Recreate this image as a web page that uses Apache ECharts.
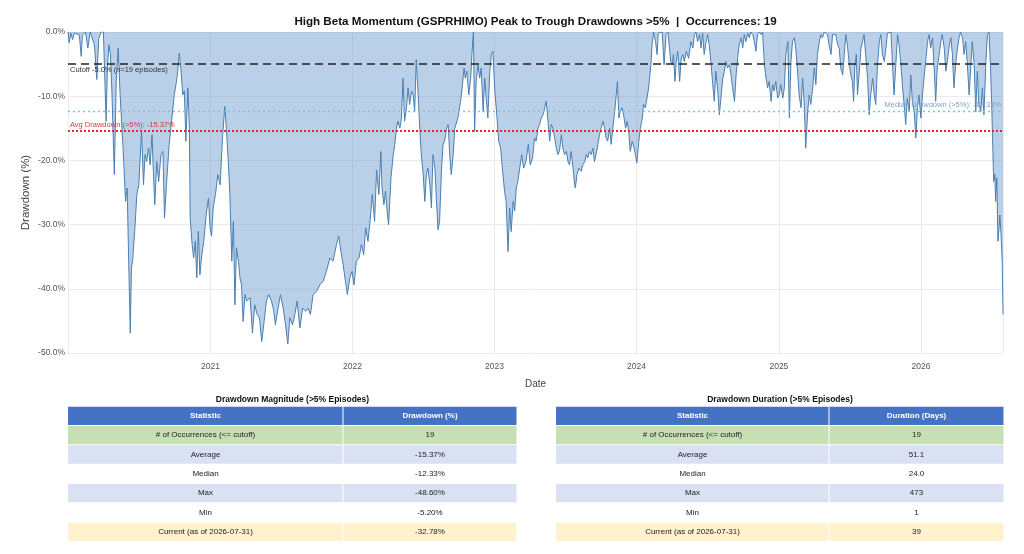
<!DOCTYPE html>
<html>
<head>
<meta charset="utf-8">
<script src="https://cdn.jsdelivr.net/npm/echarts@6/dist/echarts.min.js"></script>
<style>
  html, body { margin: 0; padding: 0; background: #fff; }
  #chart { width: 1024px; height: 554px; }
</style>
</head>
<body>
<div id="chart"></div>
<script>
// drawdown series (%, peak to trough)
var dates = [
  // 2020
  '2020-01-01','2020-01-04','2020-01-08','2020-01-13','2020-01-17','2020-01-21','2020-01-30','2020-02-04','2020-02-07','2020-02-15',
  '2020-02-21','2020-02-27','2020-03-09','2020-03-15','2020-03-20','2020-03-26','2020-04-01','2020-04-05','2020-04-08','2020-04-11',
  '2020-04-15','2020-04-19','2020-04-23','2020-04-29','2020-05-04','2020-05-09','2020-05-14','2020-05-21','2020-05-28','2020-06-01',
  '2020-06-05','2020-06-09','2020-06-12','2020-06-15','2020-06-21','2020-06-26','2020-07-01','2020-07-08','2020-07-13','2020-07-17',
  '2020-07-21','2020-07-26','2020-07-30','2020-08-04','2020-08-07','2020-08-11','2020-08-16','2020-08-21','2020-08-27','2020-09-01',
  '2020-09-05','2020-09-10','2020-09-17','2020-09-24','2020-09-30','2020-10-05','2020-10-09','2020-10-13','2020-10-17','2020-10-22',
  '2020-10-26','2020-10-30','2020-11-04','2020-11-08','2020-11-10','2020-11-15','2020-11-19','2020-11-23','2020-11-27','2020-12-01',
  '2020-12-05','2020-12-10','2020-12-15','2020-12-21','2020-12-27','2020-12-31',
  // 2021
  '2021-01-04','2021-01-08','2021-01-14','2021-01-20','2021-01-26','2021-02-01','2021-02-07','2021-02-11','2021-02-16','2021-02-20',
  '2021-02-25','2021-03-01','2021-03-05','2021-03-09','2021-03-14','2021-03-18','2021-03-22','2021-03-26','2021-03-31','2021-04-04',
  '2021-04-13','2021-04-19','2021-04-25','2021-05-01','2021-05-07','2021-05-13','2021-05-19','2021-05-25','2021-05-31','2021-06-07',
  '2021-06-13','2021-06-17','2021-06-24','2021-06-30','2021-07-07','2021-07-12','2021-07-19','2021-07-24','2021-07-31','2021-08-06',
  '2021-08-12','2021-08-19','2021-08-26','2021-09-03','2021-09-09','2021-09-15','2021-09-22','2021-10-01','2021-10-09','2021-10-18',
  '2021-10-26','2021-11-04','2021-11-12','2021-11-21','2021-11-27','2021-12-01','2021-12-08','2021-12-14','2021-12-19','2021-12-25',
  '2021-12-31',
  // 2022
  '2022-01-05','2022-01-11','2022-01-18','2022-01-24','2022-01-30','2022-02-04','2022-02-10','2022-02-16','2022-02-21','2022-02-27',
  '2022-03-04','2022-03-10','2022-03-15','2022-03-18','2022-03-23','2022-03-27','2022-04-01','2022-04-04','2022-04-10','2022-04-16',
  '2022-04-20','2022-04-24','2022-04-28','2022-05-03','2022-05-07','2022-05-11','2022-05-15','2022-05-20','2022-05-24','2022-05-28',
  '2022-06-02','2022-06-06','2022-06-10','2022-06-14','2022-06-19','2022-06-23','2022-06-27','2022-07-02','2022-07-06','2022-07-10',
  '2022-07-14','2022-07-19','2022-07-23','2022-07-27','2022-08-01','2022-08-05','2022-08-09','2022-08-13','2022-08-18','2022-08-22',
  '2022-08-26','2022-08-31','2022-09-04','2022-09-08','2022-09-12','2022-09-17','2022-09-21','2022-09-29','2022-10-06','2022-10-10',
  '2022-10-15','2022-10-18','2022-10-22','2022-10-27','2022-11-01','2022-11-04','2022-11-08','2022-11-11','2022-11-15','2022-11-20',
  '2022-11-24','2022-11-28','2022-12-03','2022-12-07','2022-12-11','2022-12-15','2022-12-20','2022-12-24','2022-12-28',
  // 2023
  '2023-01-02','2023-01-07','2023-01-12','2023-01-17','2023-01-22','2023-01-27','2023-01-31','2023-02-05','2023-02-09','2023-02-13',
  '2023-02-18','2023-02-22','2023-02-26','2023-03-02','2023-03-07','2023-03-12','2023-03-17','2023-03-23','2023-03-29','2023-04-03',
  '2023-04-09','2023-04-14','2023-04-18','2023-04-23','2023-04-27','2023-05-01','2023-05-06','2023-05-10','2023-05-14','2023-05-18',
  '2023-05-23','2023-05-27','2023-05-31','2023-06-05','2023-06-09','2023-06-13','2023-06-17','2023-06-22','2023-06-26','2023-06-30',
  '2023-07-05','2023-07-09','2023-07-13','2023-07-17','2023-07-22','2023-07-26','2023-07-28','2023-08-01','2023-08-06','2023-08-12',
  '2023-08-16','2023-08-21','2023-08-25','2023-08-29','2023-09-02','2023-09-07','2023-09-11','2023-09-15','2023-09-19','2023-09-24',
  '2023-09-28','2023-10-02','2023-10-07','2023-10-11','2023-10-15','2023-10-19','2023-10-24','2023-10-28','2023-11-01','2023-11-06',
  '2023-11-10','2023-11-13','2023-11-17','2023-11-20','2023-11-25','2023-11-29','2023-12-04','2023-12-08','2023-12-12','2023-12-16',
  '2023-12-21','2023-12-26','2023-12-29',
  // 2024
  '2024-01-02','2024-01-07','2024-01-11','2024-01-16','2024-01-19','2024-01-24','2024-01-28','2024-01-31','2024-02-03','2024-02-07',
  '2024-02-10','2024-02-14','2024-02-19','2024-02-23','2024-02-26','2024-03-02','2024-03-07','2024-03-12','2024-03-17','2024-03-22',
  '2024-03-26','2024-03-29','2024-04-02','2024-04-05','2024-04-09','2024-04-12','2024-04-16','2024-04-21','2024-04-25','2024-04-29',
  '2024-05-03','2024-05-08','2024-05-14','2024-05-20','2024-05-25','2024-05-29','2024-06-02','2024-06-06','2024-06-11','2024-06-15',
  '2024-06-19','2024-06-23','2024-06-28','2024-07-02','2024-07-06','2024-07-11','2024-07-15','2024-07-19','2024-07-23','2024-07-28',
  '2024-08-01','2024-08-05','2024-08-10','2024-08-14','2024-08-18','2024-08-22','2024-08-27','2024-08-31','2024-09-04','2024-09-09',
  '2024-09-13','2024-09-17','2024-09-21','2024-09-26','2024-09-30','2024-10-04','2024-10-08','2024-10-13','2024-10-17','2024-10-21',
  '2024-10-26','2024-10-30','2024-11-03','2024-11-07','2024-11-12','2024-11-16','2024-11-20','2024-11-25','2024-11-29','2024-12-03',
  '2024-12-07','2024-12-12','2024-12-16','2024-12-20','2024-12-24','2024-12-29',
  // 2025
  '2025-01-02','2025-01-06','2025-01-11','2025-01-15','2025-01-19','2025-01-24','2025-01-28','2025-02-01','2025-02-05','2025-02-10',
  '2025-02-14','2025-02-18','2025-02-22','2025-02-27','2025-03-03','2025-03-07','2025-03-11','2025-03-16','2025-03-20','2025-03-24',
  '2025-03-29','2025-04-02','2025-04-06','2025-04-10','2025-04-15','2025-04-19','2025-04-23','2025-04-28','2025-05-02','2025-05-06',
  '2025-05-10','2025-05-15','2025-05-19','2025-05-23','2025-05-27','2025-06-01','2025-06-05','2025-06-09','2025-06-14','2025-06-18',
  '2025-06-22','2025-06-26','2025-07-01','2025-07-05','2025-07-09','2025-07-12','2025-07-15','2025-07-19','2025-07-22','2025-07-26',
  '2025-07-31','2025-08-04','2025-08-08','2025-08-12','2025-08-17','2025-08-21','2025-08-25','2025-08-30','2025-09-03','2025-09-07',
  '2025-09-11','2025-09-16','2025-09-20','2025-09-24','2025-09-29','2025-10-03','2025-10-07','2025-10-11','2025-10-16','2025-10-20',
  '2025-10-24','2025-10-28','2025-11-02','2025-11-06','2025-11-10','2025-11-15','2025-11-19','2025-11-23','2025-11-27','2025-12-02',
  '2025-12-06','2025-12-10','2025-12-15','2025-12-19','2025-12-23','2025-12-27',
  // 2026
  '2026-01-01','2026-01-05','2026-01-09','2026-01-14','2026-01-18','2026-01-22','2026-01-26','2026-01-31','2026-02-04','2026-02-08',
  '2026-02-12','2026-02-17','2026-02-21','2026-02-25','2026-03-02','2026-03-06','2026-03-10','2026-03-14','2026-03-19','2026-03-23',
  '2026-03-27','2026-04-01','2026-04-05','2026-04-09','2026-04-13','2026-04-18','2026-04-22','2026-04-26','2026-04-30','2026-05-05',
  '2026-05-09','2026-05-13','2026-05-18','2026-05-22','2026-05-26','2026-05-30','2026-06-04','2026-06-08','2026-06-12','2026-06-17',
  '2026-06-21','2026-06-25','2026-06-29','2026-07-02','2026-07-04','2026-07-07','2026-07-10','2026-07-12','2026-07-15','2026-07-18',
  '2026-07-21','2026-07-23','2026-07-26','2026-07-29','2026-07-31'
];

var drawdown = [
  // 2020
  0, -1.7, -0.2, -1.2, -0.2, 0, -0.4, -3.8, -0.5, 0,
  -2.5, 0, -2.0, -7.4, -1.0, 0, 0, -8.0, -13.9, -6.0,
  -2.0, -3.5, -9.5, -22.2, -7.7, -2.5, -9.8, -17.5, -26.4, -24.3,
  -35.7, -46.9, -36.8, -35.7, -30.5, -25.3, -23.8, -15.5, -23.8, -19.1,
  -20.2, -18.1, -20.7, -16.0, -21.2, -26.9, -20.2, -23.3, -19.1, -18.6,
  -29.0, -23.8, -17.5, -13.4, -9.8, -8.0, -6.1, -3.3, -5.6, -9.8,
  -9.2, -17.0, -8.7, -15.0, -29.0, -33.1, -35.2, -32.6, -38.3, -31.0,
  -37.8, -34.7, -32.6, -28.5, -25.9, -30.5,
  // 2021
  -31.8, -27.4, -25.3, -22.2, -23.8, -16.5, -11.6, -15.0, -20.2, -25.3,
  -35.7, -29.5, -42.5, -33.6, -35.7, -38.3, -39.4, -45.1, -40.9, -41.9,
  -41.4, -46.9, -42.5, -44.0, -44.5, -48.2, -45.1, -41.9, -40.9, -41.9,
  -43.5, -45.6, -43.0, -40.9, -43.0, -45.1, -48.6, -44.5, -45.6, -44.0,
  -41.9, -46.1, -43.0, -43.5, -43.0, -44.0, -40.9, -40.4, -39.4, -38.8,
  -37.3, -35.2, -35.7, -33.1, -31.8, -33.6, -36.2, -38.8, -40.9, -38.3,
  -37.3,
  // 2022
  -39.4, -35.7, -35.2, -33.1, -34.7, -30.5, -32.6, -29.0, -25.3, -29.5,
  -21.5, -25.3, -18.6, -24.3, -26.9, -24.8, -28.5, -30.0, -22.7, -19.1,
  -17.5, -15.0, -13.9, -15.0, -13.4, -7.2, -13.9, -11.8, -8.7, -11.3,
  -9.2, -9.8, -12.4, -4.3, -9.8, -15.0, -19.1, -22.2, -26.4, -22.2,
  -21.2, -23.8, -27.4, -19.1, -21.2, -26.4, -30.8, -29.5, -21.2, -17.5,
  -17.0, -15.0, -14.4, -19.1, -22.2, -19.1, -15.0, -13.4, -10.8, -8.7,
  -5.6, -7.2, -6.1, -9.8, -7.2, -3.5, 0, -15.5, -7.7, -5.1,
  -7.2, -5.6, -12.4, -7.2, -10.3, -13.4, -6.1, -3.5, -3.0,
  // 2023
  -9.2, -12.9, -17.0, -18.1, -21.7, -24.8, -26.4, -34.2, -27.4, -31.1,
  -26.4, -27.9, -24.3, -23.3, -21.2, -19.1, -21.2, -20.2, -17.5, -20.7,
  -19.6, -16.5, -17.0, -15.0, -14.4, -13.4, -12.9, -11.8, -10.8, -13.4,
  -17.0, -14.4, -15.0, -16.5, -18.1, -19.1, -18.6, -16.0, -18.1, -19.1,
  -18.6, -20.2, -20.7, -18.6, -21.2, -23.8, -24.3, -22.2, -21.2, -21.7,
  -20.7, -20.2, -19.1, -19.6, -18.6, -19.1, -18.1, -20.2, -19.1, -17.5,
  -16.0, -15.0, -13.9, -15.0, -16.5, -17.0, -15.0, -17.5, -15.0, -12.4,
  -9.8, -7.7, -13.4, -12.4, -11.8, -12.9, -15.0, -13.9, -15.5, -18.6,
  -17.0, -18.1, -19.1,
  // 2024
  -20.4, -17.0, -15.0, -13.4, -11.3, -11.8, -10.3, -9.2, -7.7, -5.1,
  -2.0, 0, -1.5, -3.5, -0.2, -0.4, 0, -5.1, -0.4, 0,
  0, -4.6, -5.1, -3.5, -7.7, -4.6, -3.0, -7.7, -4.1, -3.5,
  -4.6, -3.0, -4.1, -1.5, -2.5, -0.4, 0, -1.5, -0.4, -2.5,
  -0.2, -3.5, -1.5, -0.4, -2.0, -5.1, -8.2, -10.8, -6.1, -9.2,
  -12.9, -10.3, -7.2, -6.1, -4.6, -5.6, -5.1, -6.7, -8.7, -10.8,
  -6.7, -4.1, -2.0, -0.9, -2.5, -0.4, -1.5, -0.2, -0.9, 0,
  -0.4, -1.5, -3.0, -0.4, 0, -0.4, 0, -5.1, -7.2, -8.7,
  -7.7, -10.8, -8.2, -9.2, -7.7, -10.3,
  // 2025
  -9.8, -8.2, -10.3, -8.7, -3.5, -1.5, -13.4, -4.6, -1.5, -0.9,
  -3.0, -6.1, -9.8, -11.8, -7.2, -10.8, -18.1, -12.4, -9.8, -11.3,
  -8.7, -5.6, -8.2, -3.5, -1.5, -0.4, -0.9, 0, -0.2, -0.4,
  -2.0, -3.5, -0.4, -0.2, -0.4, -2.0, -2.5, -5.6, -6.7, -3.5,
  -0.4, -2.0, -5.1, -6.7, -7.7, -10.8, -5.6, -3.5, -9.8, -6.7,
  -2.5, -1.5, -0.4, -3.5, -7.2, -12.9, -9.8, -7.2, -9.8, -11.3,
  -5.6, -1.5, -0.4, -3.5, -4.6, -2.5, -0.2, -0.4, 0, -5.1,
  -9.8, -5.6, -0.4, -2.0, -4.6, -8.7, -11.3, -14.4, -10.3, -12.4,
  -6.7, -10.8, -12.4, -16.5, -11.8, -9.8,
  // 2026
  -13.4, -9.8, -7.2, -4.1, -1.5, -0.4, -2.5, -0.9, -5.6, -10.8,
  -5.6, -3.5, -1.5, -0.4, -2.5, -6.1, -4.6, -2.5, -0.9, -3.5,
  -8.7, -4.6, -2.5, -0.9, 0, -0.9, -3.5, -1.5, -4.6, -9.8,
  -5.6, -1.5, -5.1, -12.4, -6.1, -11.3, -12.4, -8.7, -12.9, -4.6,
  -0.4, 0, -5.6, -11.3, -16.0, -23.3, -22.2, -26.4, -22.7, -32.6,
  -30.5, -28.5, -31.6, -35.7, -44.0
];

// reference levels
var cutoffLevel = -5.0;
var medianLevel = -12.33;
var avgLevel = -15.37;

// axis range
var xMin = '2020-01-01';
var xMax = '2026-07-31';
var yMin = -50;
var yMax = 0;

// summary tables
var statLabels = ['# of Occurrences (<= cutoff)', 'Average', 'Median', 'Max', 'Min', 'Current (as of 2026-07-31)'];
var magnitudeValues = ['19', '-15.37%', '-12.33%', '-48.60%', '-5.20%', '-32.78%'];
var durationValues = ['19', '51.1', '24.0', '473', '1', '39'];

var FONT = 'Liberation Sans, Arial, sans-serif';
var ROW_COLORS = ['#c6e0b4', '#d9e1f2', '#ffffff', '#d9e1f2', '#ffffff', '#fff2cc'];
var ROW_H = 19.33;
var TABLE_TOP = 406.7;

// table drawn as graphic rects + text
function tableGraphics(title, x0, width, col1, header, values) {
  var els = [{
    type: 'text', x: x0 + width / 2, y: 400, silent: true,
    style: { text: title, textAlign: 'center', textVerticalAlign: 'middle', align: 'center', verticalAlign: 'middle',
             fill: '#111', fontSize: 8.5, fontWeight: 'bold', fontFamily: FONT }
  }];
  var rows = [header].concat(statLabels.map(function (l, i) { return [l, values[i]]; }));
  var cols = [[x0, col1], [x0 + col1, width - col1]];
  rows.forEach(function (r, ri) {
    var y = TABLE_TOP + ri * ROW_H;
    var fill = ri === 0 ? '#4472c4' : ROW_COLORS[ri - 1];
    cols.forEach(function (c, ci) {
      els.push({
        type: 'rect', silent: true,
        shape: { x: c[0] + (ci ? 0.5 : 0), y: y, width: c[1] - (ci ? 0.5 : 0) - 0.5, height: ROW_H - 1 },
        style: { fill: fill }
      });
      els.push({
        type: 'text', silent: true, x: c[0] + c[1] / 2, y: y + (ROW_H - 1) / 2,
        style: { text: r[ci], textAlign: 'center', textVerticalAlign: 'middle', align: 'center', verticalAlign: 'middle',
                 fill: ri === 0 ? '#ffffff' : '#222', fontSize: 8, fontWeight: ri === 0 ? 'bold' : 'normal', fontFamily: FONT }
      });
    });
  });
  return els;
}

var graphics = [{
  type: 'text', x: 535.5, y: 22, silent: true,
  style: { text: 'High Beta Momentum (GSPRHIMO) Peak to Trough Drawdowns >5%  |  Occurrences: 19',
           textAlign: 'center', textVerticalAlign: 'middle', align: 'center', verticalAlign: 'middle',
           fill: '#111', fontSize: 11.6, fontWeight: 'bold', fontFamily: FONT }
}].concat(
  tableGraphics('Drawdown Magnitude (>5% Episodes)', 68, 449, 275, ['Statistic', 'Drawdown (%)'], magnitudeValues),
  tableGraphics('Drawdown Duration (>5% Episodes)', 556, 448, 273, ['Statistic', 'Duration (Days)'], durationValues)
);

var YEAR = 365 * 24 * 3600 * 1000;
var chart = echarts.init(document.getElementById('chart'));
chart.setOption({
  animation: false,
  textStyle: { fontFamily: FONT },
  grid: { left: 68, right: 21, top: 32, height: 321 },
  graphic: graphics,
  xAxis: {
    type: 'time',
    min: xMin,
    max: xMax,
    minInterval: YEAR,
    maxInterval: YEAR * 1.01,
    name: 'Date',
    nameLocation: 'middle',
    nameGap: 26,
    nameTextStyle: { fontSize: 10, color: '#444' },
    axisLine: { show: false },
    axisTick: { show: false },
    axisLabel: {
      fontSize: 8.5, color: '#555', margin: 9,
      formatter: function (v) {
        var yr = new Date(v).getFullYear();
        return yr === Number(xMin.slice(0, 4)) ? '' : String(yr);
      }
    },
    splitLine: { show: true, lineStyle: { color: '#ebebeb', width: 1 } }
  },
  yAxis: {
    type: 'value',
    min: yMin,
    max: yMax,
    interval: 10,
    name: 'Drawdown (%)',
    nameLocation: 'middle',
    nameGap: 36,
    nameMoveOverlap: false,
    nameTextStyle: { fontSize: 11.5, color: '#444' },
    axisLine: { show: false },
    axisTick: { show: false },
    axisLabel: { fontSize: 8.5, color: '#555', margin: 3, formatter: function (v) { return v.toFixed(1) + '%'; } },
    splitLine: { lineStyle: { color: '#ebebeb', width: 1 } }
  },
  series: [{
    type: 'line',
    data: dates.map(function (d, i) { return [d, drawdown[i]]; }),
    showSymbol: false,
    lineStyle: { width: 1, color: '#4a7fb2' },
    areaStyle: { color: 'rgb(100,150,205)', opacity: 0.45 },
    markLine: {
      silent: true,
      symbol: 'none',
      data: [
        {
          yAxis: cutoffLevel,
          lineStyle: { color: '#222', width: 1.5, type: [8, 5] },
          label: { formatter: 'Cutoff -5.0% (n=19 episodes)', position: 'insideStartBottom', distance: [2, 2], color: '#333', fontSize: 7.5 }
        },
        {
          yAxis: medianLevel,
          lineStyle: { color: '#7fbfdc', width: 1.4, type: [2, 3] },
          label: { formatter: 'Median Drawdown (>5%): -12.33%', position: 'insideEndTop', distance: [2, 2], color: '#7ea6cc', fontSize: 7.5 }
        },
        {
          yAxis: avgLevel,
          lineStyle: { color: '#e0262f', width: 2, type: [2, 2] },
          label: { formatter: 'Avg Drawdown (>5%): -15.37%', position: 'insideStartTop', distance: [2, 2], color: '#d23a3f', fontSize: 7.5 }
        }
      ]
    }
  }]
});
</script>
</body>
</html>
